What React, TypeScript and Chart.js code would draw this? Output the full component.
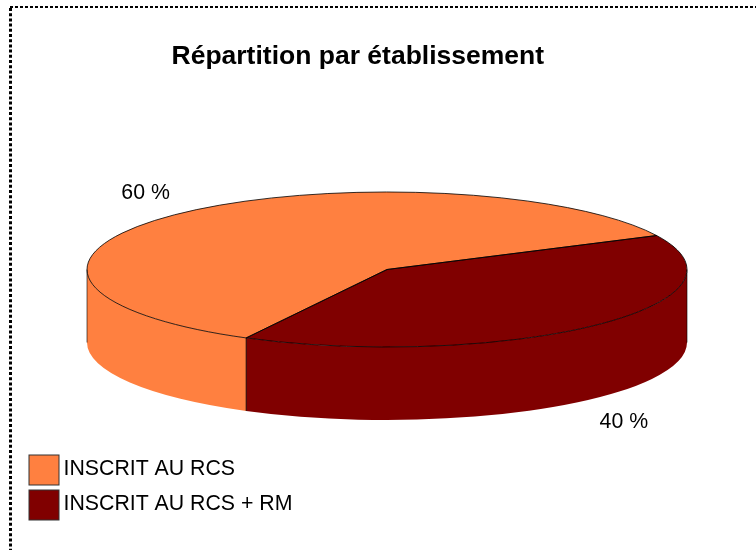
import React, { useEffect, useRef } from "react";
import { Chart, registerables } from "chart.js";

Chart.register(...registerables);

const titleText = "Répartition par établissement";
const categories = ["INSCRIT AU RCS", "INSCRIT AU RCS + RM"];
const shares = [60, 40];
const sliceColors = ["#FF8040", "#800000"];

const FONT = '"Liberation Sans", Arial, sans-serif';
const TILT = 77.5 / 300;
const DEPTH = 73;

const pie3d = {
  id: "pie3d",
  beforeDatasetsDraw(chart: any) {
    const ctx = chart.ctx;
    const arcs = chart.getDatasetMeta(0).data;
    arcs.forEach((arc: any, i: number) => {
      const ry = arc.outerRadius * TILT;
      for (const k of [-1, 0, 1]) {
        const a = Math.max(arc.startAngle + k * 2 * Math.PI, 0);
        const b = Math.min(arc.endAngle + k * 2 * Math.PI, Math.PI);
        if (b <= a) continue;
        ctx.save();
        ctx.beginPath();
        ctx.ellipse(arc.x, arc.y, arc.outerRadius, ry, 0, a, b);
        ctx.ellipse(arc.x, arc.y + DEPTH, arc.outerRadius, ry, 0, b, a, true);
        ctx.closePath();
        ctx.fillStyle = sliceColors[i];
        ctx.fill();
        ctx.restore();
      }
    });
  },
  beforeDatasetDraw(chart: any) {
    const ctx = chart.ctx;
    const arc = chart.getDatasetMeta(0).data[0];
    ctx.save();
    ctx.translate(arc.x, arc.y);
    ctx.scale(1, TILT);
    ctx.translate(-arc.x, -arc.y);
  },
  afterDatasetDraw(chart: any) {
    chart.ctx.restore();
  },
  afterDatasetsDraw(chart: any) {
    const ctx = chart.ctx;
    const arcs = chart.getDatasetMeta(0).data;
    ctx.save();
    ctx.strokeStyle = "#000";
    ctx.lineWidth = 0.8;
    arcs.forEach((arc: any) => {
      const ry = arc.outerRadius * TILT;
      ctx.beginPath();
      ctx.moveTo(arc.x, arc.y);
      ctx.ellipse(arc.x, arc.y, arc.outerRadius, ry, 0, arc.startAngle, arc.endAngle);
      ctx.closePath();
      ctx.stroke();
      const sx = arc.x + arc.outerRadius * Math.cos(arc.startAngle);
      const sy = arc.y + ry * Math.sin(arc.startAngle);
      if (Math.sin(arc.startAngle) > 0) {
        ctx.beginPath();
        ctx.moveTo(sx, sy);
        ctx.lineTo(sx, sy + DEPTH);
        ctx.stroke();
      }
    });
    const first = arcs[0];
    ctx.lineWidth = 0.6;
    for (const side of [-1, 1]) {
      const x = first.x + side * first.outerRadius;
      ctx.beginPath();
      ctx.moveTo(x, first.y);
      ctx.lineTo(x, first.y + DEPTH);
      ctx.stroke();
    }
    ctx.restore();

    ctx.save();
    ctx.font = `21.3px ${FONT}`;
    ctx.fillStyle = "#000";
    ctx.textAlign = "center";
    ctx.textBaseline = "alphabetic";
    arcs.forEach((arc: any, i: number) => {
      const mid = (arc.startAngle + arc.endAngle) / 2;
      const ry = arc.outerRadius * TILT;
      const sin = Math.sin(mid);
      const x = arc.x + arc.outerRadius * 1.1475 * Math.cos(mid) - 2.25;
      const y = arc.y + ry * 1.398 * sin + (sin > 0 ? DEPTH : 0) + 7.9;
      ctx.fillText(`${shares[i]} %`, x, y);
    });
    ctx.restore();
  },
  afterDraw(chart: any) {
    const ctx = chart.ctx;
    ctx.save();
    categories.forEach((label, i) => {
      const top = 455 + i * 35;
      ctx.fillStyle = sliceColors[i];
      ctx.fillRect(29, top, 30, 30);
      ctx.strokeStyle = "#333";
      ctx.lineWidth = 1;
      ctx.strokeRect(29, top, 30, 30);
      ctx.fillStyle = "#000";
      ctx.font = `21.3px ${FONT}`;
      ctx.textAlign = "left";
      ctx.textBaseline = "alphabetic";
      ctx.fillText(label, 63.5, 475 + i * 34.5);
    });
    ctx.strokeStyle = "#000";
    ctx.setLineDash([3, 2.2]);
    ctx.lineWidth = 3;
    ctx.beginPath();
    ctx.moveTo(10.5, 8);
    ctx.lineTo(10.5, 550);
    ctx.stroke();
    ctx.setLineDash([3, 2]);
    ctx.lineWidth = 2;
    ctx.beginPath();
    ctx.moveTo(10, 7);
    ctx.lineTo(756, 7);
    ctx.stroke();
    ctx.restore();
  },
};

export default function App() {
  const ref = useRef<HTMLCanvasElement>(null);
  useEffect(() => {
    const chart = new Chart(ref.current!, {
      type: "pie",
      data: {
        labels: categories,
        datasets: [
          {
            data: shares,
            backgroundColor: sliceColors,
            borderWidth: 0,
            radius: 300,
          } as any,
        ],
      },
      options: {
        responsive: false,
        animation: false,
        rotation: 208,
        layout: { padding: { left: 171.5, right: 153.5, top: 0, bottom: 87.8 } },
        plugins: {
          legend: { display: false },
          tooltip: { enabled: false },
          title: {
            display: true,
            text: titleText,
            align: "start",
            color: "#000",
            font: { family: FONT, size: 26.5, weight: "bold", lineHeight: 1.2 },
            padding: { top: 41, bottom: 4 },
          },
        },
      },
      plugins: [pie3d],
    } as any);
    return () => chart.destroy();
  }, []);
  return (
    <div style={{ position: "fixed", left: 0, top: 0, width: 756, height: 550, overflow: "hidden", background: "#fff" }}>
      <canvas ref={ref} width={756} height={550} style={{ display: "block", width: 756, height: 550 }} />
    </div>
  );
}
